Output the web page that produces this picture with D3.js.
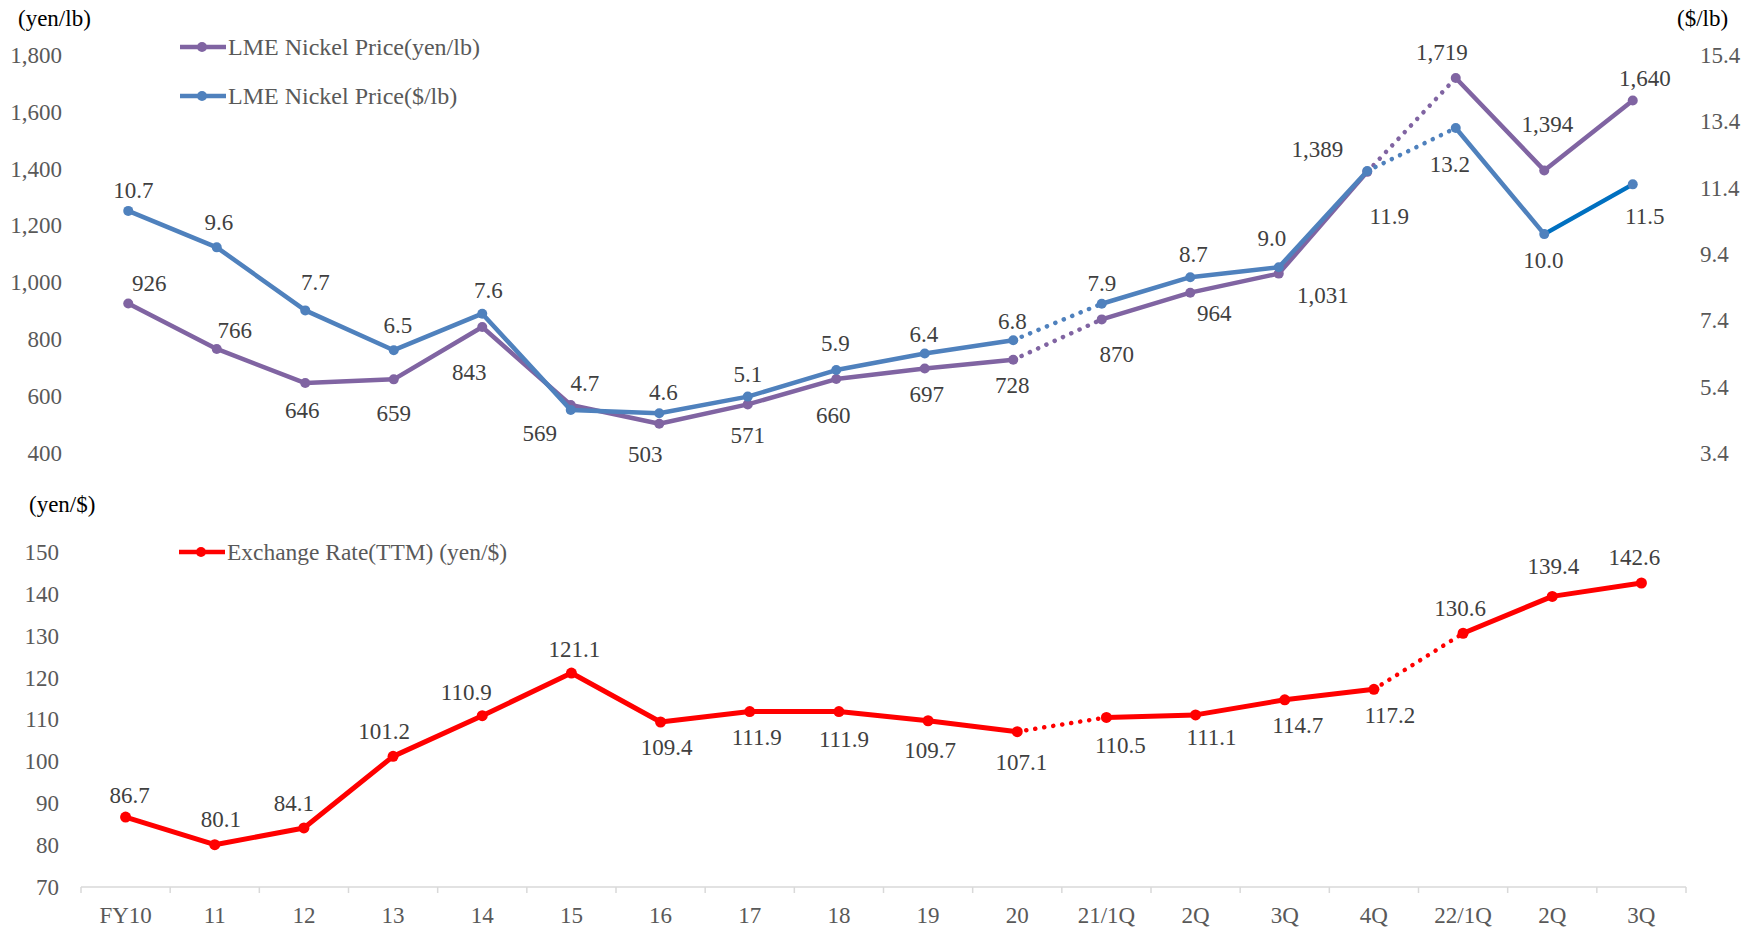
<!DOCTYPE html>
<html>
<head>
<meta charset="utf-8">
<script src="https://cdn.jsdelivr.net/npm/d3@7"></script>
<style>
  html, body { margin: 0; padding: 0; background: #fff; }
  svg { display: block; font-family: "Liberation Serif", "Times New Roman", serif; }
</style>
</head>
<body>
<svg id="chart" width="1760" height="930"></svg>
<script>
// ---- data ----
const categories = ["FY10","11","12","13","14","15","16","17","18","19","20","21/1Q","2Q","3Q","4Q","22/1Q","2Q","3Q"];
const nickelYen = [926,766,646,659,843,569,503,571,660,697,728,870,964,1031,1389,1719,1394,1640];
const nickelUsd = [10.7,9.6,7.7,6.5,7.6,4.7,4.6,5.1,5.9,6.4,6.8,7.9,8.7,9.0,11.9,13.2,10.0,11.5];
const fxRate = [86.7,80.1,84.1,101.2,110.9,121.1,109.4,111.9,111.9,109.7,107.1,110.5,111.1,114.7,117.2,130.6,139.4,142.6];
const yenTicks = [400,600,800,1000,1200,1400,1600,1800];
const usdTicks = [3.4,5.4,7.4,9.4,11.4,13.4,15.4];
const fxTicks = [70,80,90,100,110,120,130,140,150];
const dottedFrom = [10,14];           // segments i -> i+1 drawn dotted
const legendTop = ["LME Nickel Price(yen/lb)", "LME Nickel Price($/lb)"];
const legendBottom = "Exchange Rate(TTM) (yen/$)";

// ---- label placement (offsets from the point to label centre) ----
const yenLabelOff = [[21,-21],[18,-19],[-3,27],[0,34],[-13,45],[-31,28],[-14,30],[0,31],[-3,36],[2,25],[-1,25],[15,35],[24,20],[44,21],[-50,-23],[-14,-26],[3,-46],[12,-23]];
const usdLabelOff = [[5,-21],[2,-25],[10,-28],[4,-25],[6,-24],[14,-27],[4,-21],[0,-23],[-1,-27],[-1,-20],[-1,-19],[0,-21],[3,-23],[-7,-29],[22,45],[-6,36],[-1,26],[12,32]];
const fxLabelOff = [[4,-22],[6,-26],[-10,-25],[-9,-25],[-16,-24],[3,-24],[6,25],[7,25],[5,27],[2,29],[4,30],[14,28],[16,22],[13,25],[16,26],[-3,-25],[1,-30],[-7,-26]];

const C_PURPLE = "#8064A2", C_BLUE = "#4F81BD", C_BLUE2 = "#0070C0", C_RED = "#FF0000";
const C_TICK = "#595959", C_LABEL = "#404040";

const svg = d3.select("#chart");
const idx = d3.range(categories.length);

// ---- scales ----
const xTop = d3.scaleBand().domain(idx).range([84, 1677]);
const xBot = d3.scaleBand().domain(idx).range([81, 1686]);
const cx = (s, i) => s(i) + s.bandwidth() / 2;
const yYen = d3.scaleLinear().domain([400, 1800]).range([453, 55]);
const yUsd = d3.scaleLinear().domain([3.4, 15.4]).range([453, 55]);
const yFx = d3.scaleLinear().domain([70, 150]).range([887, 552]);

// ---- axes ----
function styleAxis(g, anchor) {
  g.select(".domain").remove();
  g.selectAll(".tick line").remove();
  g.selectAll(".tick text").attr("fill", C_TICK).attr("font-size", 23)
    .attr("font-family", "Liberation Serif").attr("text-anchor", anchor);
}
svg.append("g").attr("transform", "translate(62,0)")
  .call(d3.axisLeft(yYen).tickValues(yenTicks).tickFormat(d3.format(",")).tickSize(0).tickPadding(0))
  .call(g => styleAxis(g, "end"));
svg.append("g").attr("transform", "translate(1700,0)")
  .call(d3.axisRight(yUsd).tickValues(usdTicks).tickFormat(d3.format(".1f")).tickSize(0).tickPadding(0))
  .call(g => styleAxis(g, "start"));
svg.append("g").attr("transform", "translate(59,0)")
  .call(d3.axisLeft(yFx).tickValues(fxTicks).tickFormat(d3.format("d")).tickSize(0).tickPadding(0))
  .call(g => styleAxis(g, "end"));

// bottom category axis
const xAxisG = svg.append("g").attr("transform", "translate(0,887)");
xAxisG.append("line").attr("x1", xBot.range()[0]).attr("x2", xBot.range()[1])
  .attr("y1", 0).attr("y2", 0).attr("stroke", "#D9D9D9").attr("stroke-width", 1.5);
const bounds = idx.map(i => xBot(i)).concat([xBot.range()[1]]);
xAxisG.selectAll("line.tk").data(bounds).join("line").attr("class", "tk")
  .attr("x1", d => d).attr("x2", d => d).attr("y1", 0).attr("y2", 6)
  .attr("stroke", "#D9D9D9").attr("stroke-width", 1.5);
xAxisG.selectAll("text").data(idx).join("text")
  .attr("x", i => cx(xBot, i)).attr("y", 28).attr("dy", "0.35em")
  .attr("text-anchor", "middle").attr("fill", C_TICK).attr("font-size", 23)
  .text(i => categories[i]);

// unit labels
const unit = (x, y, t, anchor) => svg.append("text").attr("x", x).attr("y", y).attr("dy", "0.35em")
  .attr("text-anchor", anchor).attr("font-size", 23).attr("fill", "#000").text(t);
unit(18, 18, "(yen/lb)", "start");
unit(1677, 18, "($/lb)", "start");
unit(29, 504, "(yen/$)", "start");

// ---- series drawing ----
function drawSeries(values, xs, ys, color, opts) {
  const g = svg.append("g");
  const pts = values.map((v, i) => [cx(xs, i), ys(v)]);
  for (let i = 0; i < pts.length - 1; i++) {
    const dotted = dottedFrom.includes(i);
    const col = (opts.segColor && opts.segColor[i]) || color;
    g.append("line")
      .attr("x1", pts[i][0]).attr("y1", pts[i][1]).attr("x2", pts[i + 1][0]).attr("y2", pts[i + 1][1])
      .attr("stroke", col).attr("stroke-width", dotted ? 4.5 : opts.width)
      .attr("stroke-linecap", "round")
      .attr("stroke-dasharray", dotted ? "0.1 9" : null);
  }
  g.selectAll("circle").data(pts).join("circle")
    .attr("cx", d => d[0]).attr("cy", d => d[1]).attr("r", opts.r).attr("fill", color);
  return pts;
}
function drawLabels(values, pts, off, fmt) {
  svg.append("g").selectAll("text").data(values).join("text")
    .attr("x", (v, i) => pts[i][0] + off[i][0]).attr("y", (v, i) => pts[i][1] + off[i][1])
    .attr("dy", "0.35em").attr("text-anchor", "middle")
    .attr("font-size", 23).attr("fill", C_LABEL).text(v => fmt(v));
}

const pYen = drawSeries(nickelYen, xTop, yYen, C_PURPLE, { width: 4.5, r: 5 });
const pUsd = drawSeries(nickelUsd, xTop, yUsd, C_BLUE, { width: 4.5, r: 5, segColor: { 16: C_BLUE2 } });
const pFx = drawSeries(fxRate, xBot, yFx, C_RED, { width: 5, r: 5.5 });

drawLabels(nickelYen, pYen, yenLabelOff, d3.format(","));
drawLabels(nickelUsd, pUsd, usdLabelOff, d3.format(".1f"));
drawLabels(fxRate, pFx, fxLabelOff, d3.format(".1f"));

// ---- legends ----
function legendItem(x, y, color, text, textLen) {
  const g = svg.append("g");
  g.append("line").attr("x1", x).attr("x2", x + 46).attr("y1", y).attr("y2", y)
    .attr("stroke", color).attr("stroke-width", 4.5);
  g.append("circle").attr("cx", x + 22).attr("cy", y).attr("r", 5).attr("fill", color);
  const t = g.append("text").attr("x", x + 48).attr("y", y).attr("dy", "0.35em")
    .attr("font-size", 24).attr("fill", C_TICK).text(text);
  if (textLen) t.attr("textLength", textLen).attr("lengthAdjust", "spacingAndGlyphs");
}
legendItem(180, 47, C_PURPLE, legendTop[0]);
legendItem(180, 96, C_BLUE, legendTop[1]);
legendItem(179, 552, C_RED, legendBottom, 280);
</script>
</body>
</html>
